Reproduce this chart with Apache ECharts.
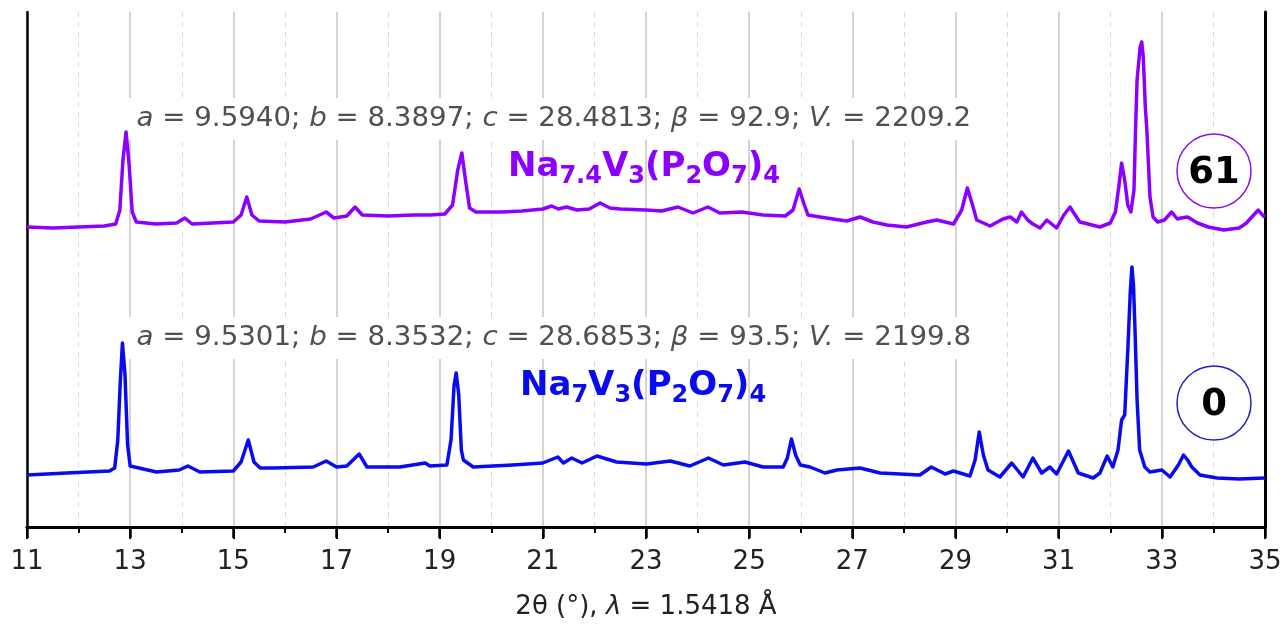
<!DOCTYPE html>
<html>
<head>
<meta charset="utf-8">
<script src="https://cdn.jsdelivr.net/npm/echarts@6/dist/echarts.min.js"></script>
<style>html,body{margin:0;padding:0;background:#fff}#c{width:1287px;height:627px}</style>
</head>
<body>
<div id="c"></div>
<script>
// 2θ positions (degrees) and plotted intensities (a.u., stacked offsets as drawn)
const purpleX = [11.0,11.5,12.0,12.5,12.72,12.8,12.86,12.92,12.98,13.04,13.12,13.5,13.9,14.06,14.2,14.6,15.0,15.15,15.26,15.36,15.5,16.0,16.5,16.8,16.95,17.2,17.36,17.5,18.0,18.5,18.81,19.1,19.25,19.35,19.43,19.5,19.58,19.7,20.2,20.6,21.0,21.17,21.3,21.46,21.66,21.9,22.11,22.3,22.5,23.0,23.3,23.62,23.91,24.2,24.43,24.86,25.27,25.7,25.85,25.97,26.07,26.14,26.37,26.89,27.15,27.4,27.67,28.05,28.44,28.64,28.96,29.12,29.23,29.33,29.41,29.67,29.92,30.06,30.19,30.28,30.4,30.5,30.64,30.77,30.96,31.1,31.22,31.32,31.41,31.57,31.8,32.0,32.1,32.17,32.22,32.28,32.34,32.4,32.46,32.49,32.52,32.58,32.61,32.64,32.68,32.71,32.77,32.83,32.92,33.05,33.19,33.3,33.37,33.5,33.69,33.9,34.2,34.5,34.64,34.78,34.87,34.95,35.0];
const purpleY = [300,299,300,301,303,317,367,395,362,315,305,303,304,309,303,304,305,312,330,312,306,305,308,315,309,311,320,312,311,312,312,313,322,357,374,347,319,315,315,316,318,321,318,320,317,318,324,319,318,317,316,320,314,320,314,315,312,311,317,338,322,312,310,306,310,305,302,300,305,307,303,317,339,322,307,301,308,310,305,315,307,303,299,307,299,312,320,312,305,303,300,304,315,342,364,347,322,315,337,397,447,480,485,470,420,397,330,310,305,307,315,308,309,310,304,300,297,299,304,312,317,312,310];

const blueX = [11.0,11.77,12.6,12.7,12.76,12.81,12.85,12.9,12.95,13.0,13.51,13.95,14.12,14.35,15.0,15.15,15.29,15.4,15.52,15.78,16.55,16.8,17.0,17.2,17.44,17.59,18.23,18.72,18.81,19.14,19.22,19.28,19.32,19.37,19.42,19.46,19.65,20.42,21.0,21.29,21.4,21.56,21.76,22.05,22.43,23.01,23.47,23.85,24.21,24.5,24.92,25.27,25.66,25.74,25.82,25.9,25.99,26.18,26.47,26.7,27.15,27.54,28.31,28.53,28.8,28.96,29.28,29.38,29.46,29.54,29.63,29.86,30.09,30.31,30.5,30.67,30.83,30.96,31.19,31.38,31.67,31.8,31.94,32.05,32.15,32.22,32.28,32.34,32.39,32.42,32.45,32.48,32.52,32.57,32.67,32.77,33.0,33.16,33.32,33.42,33.5,33.58,33.74,34.07,34.5,35.0];
const blueY = [52,54,56,59,87,147,184,152,82,61,55,57,61,55,56,65,87,65,59,59,60,66,60,61,73,60,60,64,61,62,87,142,154,132,77,67,60,62,64,70,64,69,64,71,65,63,66,61,69,62,65,60,60,69,88,72,62,60,54,57,59,54,52,60,53,56,51,67,95,72,57,50,64,50,69,54,60,53,76,54,49,54,71,60,77,107,112,177,237,260,242,197,127,77,60,55,57,50,62,72,67,60,52,49,48,49];

const xMin = 11, xMax = 35, xStep = 2;
const yMin = 0, yMax = 515;

const purpleColor = '#8c00ff';
const blueColor = '#0a0af0';
const FONT = 'DejaVu Sans';
const GRAY = '#505050';

const toPairs = (xs, ys) => xs.map((x, i) => [x, ys[i]]);

const chart = echarts.init(document.getElementById('c'), null, {renderer: 'canvas'});

const annoRich = {
  n: {fontFamily: FONT, fontSize: 26, fill: GRAY},
  i: {fontFamily: FONT, fontSize: 26, fill: GRAY, fontStyle: 'italic'}
};
function annoText(s) {
  return s.replace(/(β|V\.|\b[abc]\b)/g, '}{i|$1}{n|').replace(/^/, '{n|') + '}';
}
function formulaRich(color) {
  return {
    m: {fontFamily: FONT, fontSize: 34, fontWeight: 'bold', fill: color, lineHeight: 44},
    s: {fontFamily: FONT, fontSize: 24, fontWeight: 'bold', fill: color, lineHeight: 20, verticalAlign: 'bottom'}
  };
}

const option = {
  animation: false,
  backgroundColor: '#fff',
  grid: {left: 27, right: 22, top: 12, bottom: 100, containLabel: false},
  xAxis: [{
    type: 'value', position: 'bottom', min: xMin, max: xMax, interval: xStep,
    axisLine: {lineStyle: {color: '#000', width: 3}},
    axisTick: {show: true, length: 12, lineStyle: {color: '#000', width: 2}},
    minorTick: {show: true, splitNumber: 2, length: 6, lineStyle: {color: '#000', width: 2}},
    axisLabel: {fontFamily: FONT, fontSize: 26, color: '#222', margin: 22},
    splitLine: {show: true, lineStyle: {color: '#c4c4c4', width: 1.5}},
    minorSplitLine: {show: true, lineStyle: {color: '#d9d9d9', width: 1, type: [5, 5]}},
    name: '2θ (°), {i|λ} = 1.5418 Å',
    nameLocation: 'middle', nameGap: 67,
    nameTextStyle: {fontFamily: FONT, fontSize: 26, color: '#222',
      rich: {i: {fontFamily: FONT, fontSize: 26, color: '#222', fontStyle: 'italic'}}}
  }, {
    type: 'value', position: 'top', min: xMin, max: xMax, interval: xStep,
    axisLine: {show: true, lineStyle: {color: '#000', width: 2.5}},
    axisTick: {show: true, inside: true, length: 11, lineStyle: {color: '#000', width: 2.5}},
    minorTick: {show: true, splitNumber: 2, length: 6, lineStyle: {color: '#000', width: 1.5}},
    axisLabel: {show: false},
    splitLine: {show: false}
  }],
  yAxis: [{
    type: 'value', position: 'left', min: yMin, max: yMax,
    axisLine: {show: true, lineStyle: {color: '#000', width: 2.5}},
    axisTick: {show: false}, axisLabel: {show: false}, splitLine: {show: false}
  }, {
    type: 'value', position: 'right', min: yMin, max: yMax,
    axisLine: {show: true, lineStyle: {color: '#000', width: 3}},
    axisTick: {show: false}, axisLabel: {show: false}, splitLine: {show: false}
  }],
  series: [{
    name: 'Na7.4V3(P2O7)4', type: 'line', xAxisIndex: 0, yAxisIndex: 0,
    data: toPairs(purpleX, purpleY), showSymbol: false, smooth: false,
    lineStyle: {color: purpleColor, width: 3.5, join: 'round'}, z: 3
  }, {
    name: 'Na7V3(P2O7)4', type: 'line', xAxisIndex: 0, yAxisIndex: 0,
    data: toPairs(blueX, blueY), showSymbol: false, smooth: false,
    lineStyle: {color: blueColor, width: 3.5, join: 'round'}, z: 3
  }],
  graphic: [
    {type: 'text', x: 128, y: 119, z: 2, scaleX: 1.064,
      style: {text: annoText('a = 9.5940; b = 8.3897; c = 28.4813; β = 92.9; V. = 2209.2'),
        rich: annoRich, verticalAlign: 'middle', align: 'left', backgroundColor: '#fff', padding: [8, 8]}},
    {type: 'text', x: 128, y: 338, z: 2, scaleX: 1.064,
      style: {text: annoText('a = 9.5301; b = 8.3532; c = 28.6853; β = 93.5; V. = 2199.8'),
        rich: annoRich, verticalAlign: 'middle', align: 'left', backgroundColor: '#fff', padding: [8, 8]}},
    {type: 'text', x: 508, y: 167, z: 2,
      style: {text: '{m|Na}{s|7.4}{m|V}{s|3}{m|(P}{s|2}{m|O}{s|7}{m|)}{s|4}',
        rich: formulaRich(purpleColor), verticalAlign: 'middle', align: 'left'}},
    {type: 'text', x: 520, y: 386, z: 2,
      style: {text: '{m|Na}{s|7}{m|V}{s|3}{m|(P}{s|2}{m|O}{s|7}{m|)}{s|4}',
        rich: formulaRich(blueColor), verticalAlign: 'middle', align: 'left'}},
    {type: 'circle', shape: {cx: 1214, cy: 171, r: 37}, z: 5,
      style: {fill: '#fff', stroke: '#8a10e8', lineWidth: 1.5}},
    {type: 'text', x: 1214, y: 173, z: 6,
      style: {text: '61', fontFamily: FONT, fontSize: 37, fontWeight: 'bold', fill: '#000', align: 'center', verticalAlign: 'middle'}},
    {type: 'circle', shape: {cx: 1214, cy: 403, r: 37}, z: 5,
      style: {fill: '#fff', stroke: '#2020c0', lineWidth: 1.5}},
    {type: 'text', x: 1214, y: 405, z: 6,
      style: {text: '0', fontFamily: FONT, fontSize: 37, fontWeight: 'bold', fill: '#000', align: 'center', verticalAlign: 'middle'}}
  ]
};
chart.setOption(option);
</script>
</body>
</html>
